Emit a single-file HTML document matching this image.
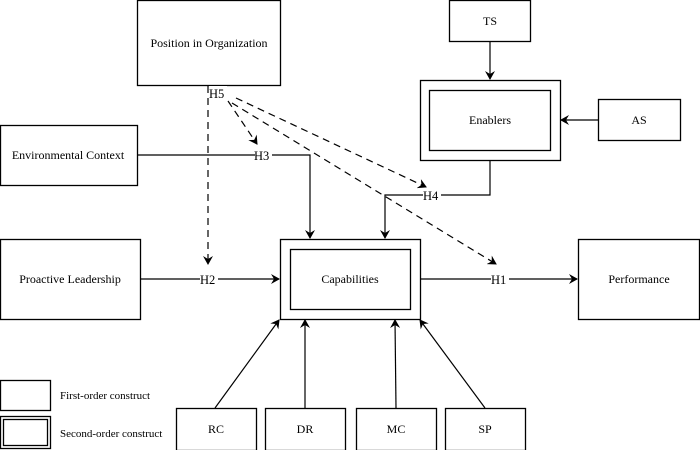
<!DOCTYPE html><html><head><style>body{margin:0;background:#fff}</style></head><body>
<svg width="700" height="450" viewBox="0 0 700 450" xmlns="http://www.w3.org/2000/svg" font-size="12" style="font-family:'Liberation Serif','Times New Roman','DejaVu Serif',serif">
<defs><marker id="a" markerWidth="10" markerHeight="10" refX="8" refY="5" orient="auto" markerUnits="userSpaceOnUse"><path d="M0,0 L9,5 L0,10 L3,5 z" fill="#000"/></marker></defs>
<g fill="#fff" stroke="#000" stroke-width="1.3">
<rect x="137.5" y="0.5" width="143" height="85"/>
<rect x="449.5" y="0.5" width="81" height="41"/>
<rect x="420.5" y="80.5" width="140" height="80"/><rect x="429.5" y="90.5" width="121" height="60"/>
<rect x="598.5" y="99.5" width="82" height="41"/>
<rect x="0.5" y="125.5" width="137" height="60"/>
<rect x="0.5" y="239.5" width="140" height="80"/>
<rect x="280.5" y="239.5" width="140" height="80"/><rect x="290.5" y="249.5" width="120" height="60"/>
<rect x="578.5" y="239.5" width="121" height="80"/>
<rect x="176.5" y="408.5" width="80" height="42"/><rect x="265.5" y="408.5" width="80" height="42"/>
<rect x="356.5" y="408.5" width="80" height="42"/><rect x="445.5" y="408.5" width="80" height="42"/>
<rect x="0.5" y="380.5" width="50" height="30"/>
<rect x="0.5" y="416.5" width="50" height="32"/><rect x="3.5" y="419.5" width="44" height="26"/>
</g>
<g fill="none" stroke="#000" stroke-width="1.2">
<path d="M137,155 H310 V238" marker-end="url(#a)"/>
<path d="M490,160 V195 H385 V238" marker-end="url(#a)"/>
<path d="M140,279 H279" marker-end="url(#a)"/>
<path d="M420,279 H577" marker-end="url(#a)"/>
<path d="M490,41 V79" marker-end="url(#a)"/>
<path d="M598,120 H561" marker-end="url(#a)"/>
<path d="M215,408 L279,320" marker-end="url(#a)"/>
<path d="M305,408 V320" marker-end="url(#a)"/>
<path d="M396,408 L395,320" marker-end="url(#a)"/>
<path d="M485,408 L420,320" marker-end="url(#a)"/>
</g>
<g fill="none" stroke="#000" stroke-width="1.2" stroke-dasharray="7,5">
<path d="M208,86 V264" marker-end="url(#a)"/>
<path d="M228,101 L257,144" marker-end="url(#a)"/>
<path d="M236,98 L426,187" marker-end="url(#a)"/>
<path d="M232,103 L496,264" marker-end="url(#a)"/>
</g>
<g text-anchor="middle">
<text x="209" y="47">Position in Organization</text>
<text x="490" y="25">TS</text>
<text x="490" y="124">Enablers</text>
<text x="639" y="124">AS</text>
<text x="68" y="159">Environmental Context</text>
<text x="70" y="283">Proactive Leadership</text>
<text x="350" y="283">Capabilities</text>
<text x="639" y="283">Performance</text>
<text x="216" y="433">RC</text><text x="305" y="433">DR</text><text x="396" y="433">MC</text><text x="485" y="433">SP</text>
</g>
<g font-size="12.5">
<rect x="255" y="148" width="17" height="14" fill="#fff"/><text x="254" y="160">H3</text>
<rect x="423" y="188" width="18" height="14" fill="#fff"/><text x="423" y="200">H4</text>
<rect x="200" y="272" width="18" height="14" fill="#fff"/><text x="200" y="284">H2</text>
<rect x="491" y="272" width="18" height="14" fill="#fff"/><text x="491" y="284">H1</text>
<rect x="209" y="86" width="18" height="13" fill="#fff"/><text x="209" y="98">H5</text>
</g>
<text x="60" y="399" font-size="11">First-order construct</text>
<text x="60" y="437" font-size="11">Second-order construct</text>
</svg></body></html>
